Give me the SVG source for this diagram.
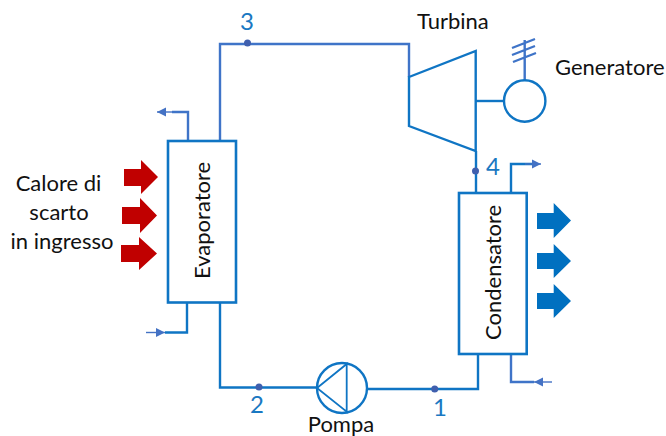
<svg xmlns="http://www.w3.org/2000/svg" width="666" height="436" viewBox="0 0 666 436">
<defs>
<marker id="ah" markerUnits="userSpaceOnUse" markerWidth="10" markerHeight="10" refX="9" refY="5" orient="auto"><path d="M0,0.5 L9,5 L0,9.5 Z" fill="#4472C4"/></marker>
</defs>
<style>
.s{fill:none;stroke:#0F75C4;stroke-width:2.4}
.b{fill:#fff;stroke:#0F75C4;stroke-width:2.6}
.l{fill:none;stroke:#3F74C8;stroke-width:2.4}
.f{fill:none;stroke:#4472C4;stroke-width:1.4}
.d{fill:#3F5FAE}
.t{font-family:Lato,"Open Sans",sans-serif;font-size:22px;fill:#111}
.n{font-family:Lato,"Open Sans",sans-serif;font-size:24px;fill:#1A78C2;text-anchor:middle}
.r{fill:#C00000}
.c{fill:#0070C0}
</style>
<g id="connectors">
<path class="l" d="M220,141 V44 H409 V77"/>
<path class="l" d="M188,141 V112 H172"/>
<path class="f" d="M172,112 H157" marker-end="url(#ah)"/>
<path class="s" d="M187,302 V332.500 H165"/>
<path class="f" d="M146,332.500 H165" marker-end="url(#ah)"/>
<path class="s" d="M220,302 V387.500 H317"/>
<path class="s" d="M367.500,389 H478 V354"/>
<path class="s" d="M476,151 V193"/>
<path class="s" d="M511,193 V164 H532"/>
<path class="f" d="M525,164 H541" marker-end="url(#ah)"/>
<path class="l" d="M511,354 V382 H534"/>
<path class="f" d="M552,382 H534" marker-end="url(#ah)"/>
<path class="s" d="M476,101 H504"/>
<path class="l" d="M524.700,80 V40 M512,48 L535,39 M512,55 L535,46 M513,62 L536,53"/>
</g>
<g id="evaporatore">
<rect class="b" x="168" y="141" width="68" height="161.500"/>
<text class="t" transform="translate(210,279) rotate(-90)">Evaporatore</text>
</g>
<g id="condensatore">
<rect class="b" x="459" y="193" width="67.700" height="161"/>
<text class="t" transform="translate(501,340) rotate(-90)">Condensatore</text>
</g>
<g id="turbina">
<path class="s" d="M409,77 L475.700,51 V151 L409,126 Z"/>
<text class="t" x="417" y="29">Turbina</text>
</g>
<g id="generatore">
<circle class="s" cx="524.700" cy="101" r="20.700"/>
<text class="t" x="555" y="75">Generatore</text>
</g>
<g id="pompa">
<circle class="s" cx="342" cy="388" r="25"/>
<path class="s" style="stroke-width:1.8" d="M346.700,364 V411.700 L317,388 Z"/>
<text class="t" x="341" y="431.500" text-anchor="middle">Pompa</text>
</g>
<g id="calore">
<text class="t" x="58.500" y="191" text-anchor="middle">Calore di</text>
<text class="t" x="59" y="220" text-anchor="middle">scarto</text>
<text class="t" x="62" y="249" text-anchor="middle">in ingresso</text>
<path class="r" d="M124,169 H141 V160 L158,177 L141,194 V186 H124 Z"/>
<path class="r" d="M122,207 H140 V198 L157,215.500 L140,233 V224 H122 Z"/>
<path class="r" d="M121,245 H139 V237 L157,253.500 L139,270 V262 H121 Z"/>
</g>
<g id="scarico">
<path class="c" d="M537,213 H553.700 V203 L571,220.500 L553.700,238 V229 H537 Z"/>
<path class="c" d="M537,253 H553.700 V244 L571,261 L553.700,278 V269 H537 Z"/>
<path class="c" d="M537,293 H553.700 V284 L571,301 L553.700,318 V309 H537 Z"/>
</g>
<g id="punto1"><circle class="d" cx="434.700" cy="389" r="3.500"/><text class="n" x="440" y="416">1</text></g>
<g id="punto2"><circle class="d" cx="259" cy="387" r="3.500"/><text class="n" x="257" y="413">2</text></g>
<g id="punto3"><circle class="d" cx="247.500" cy="43" r="3.500"/><text class="n" x="247" y="30">3</text></g>
<g id="punto4"><circle class="d" cx="475.500" cy="171" r="3.500"/><text class="n" x="493" y="175">4</text></g>
</svg>
